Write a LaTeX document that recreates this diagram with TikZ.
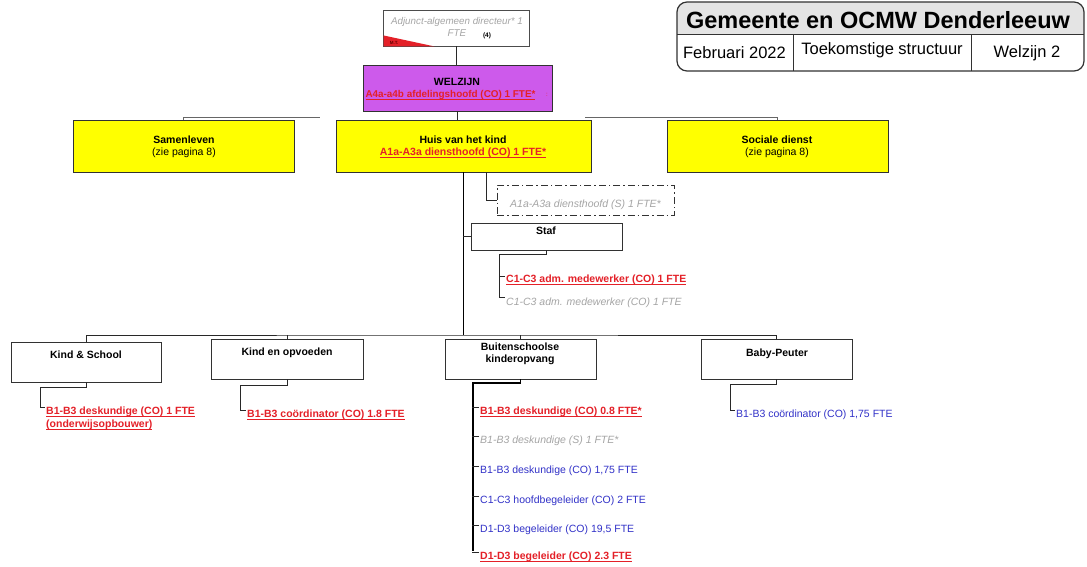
\documentclass[tikz,border=0pt]{standalone}
\usepackage{fontspec}
\setmainfont{Liberation Sans}
\definecolor{myred}{RGB}{228,32,40}
\definecolor{myblue}{RGB}{50,50,200}
\definecolor{greytxt}{RGB}{165,165,165}
\definecolor{purp}{RGB}{205,90,235}
\definecolor{yfill}{RGB}{255,255,0}
\definecolor{boxdark}{RGB}{50,50,50}
\definecolor{linedark}{RGB}{40,40,40}
\definecolor{titlefill}{RGB}{228,228,228}
\newcommand\fsz{\fontsize{10.5}{12.5}\selectfont}
\newcommand\redul[1]{{\color{myred}\bfseries\setbox0\hbox{#1}\rlap{\rule[-2pt]{\wd0}{0.8pt}}\box0}}
\begin{document}
\begin{tikzpicture}[x=1pt,y=-1pt, font=\fsz,
  box/.style={draw=boxdark, line width=0.9pt, rectangle, inner sep=0pt},
  ybox/.style={box, fill=yfill},
  txt/.style={inner sep=0pt, anchor=west},
  ctxt/.style={inner sep=0pt, align=center},
  conn/.style={draw=linedark, line width=0.9pt},
  thickconn/.style={draw=black, line width=1.6pt},
  greyit/.style={text=greytxt, font=\fsz\itshape},
  bluet/.style={text=myblue},
  ttl/.style={inner sep=0pt, font=\fontsize{16.5}{18}\selectfont}]
\fill[white] (0,0) rectangle (1087,567);
\useasboundingbox (0,0) rectangle (1087,567);

% title block
\begin{scope}
  \clip[rounded corners=10pt] (677,2) rectangle (1084,71);
  \fill[titlefill] (677,2) rectangle (1084,35);
\end{scope}
\draw[line width=1.2pt, draw=boxdark, rounded corners=10pt] (677,2) rectangle (1084,71);
\draw[line width=1pt, draw=boxdark] (677,35) -- (1084,35);
\draw[line width=1pt, draw=boxdark] (793,35) -- (793,71);
\draw[line width=1pt, draw=boxdark] (971,35) -- (971,71);
\node[inner sep=0pt, font=\fontsize{23.5}{26}\selectfont\bfseries] (title) at (878,20) {Gemeente en OCMW Denderleeuw};
\node[ttl] (feb) at (734.5,53) {Februari 2022};
\node[ttl] (toek) at (882,50) {Toekomstige structuur};
\node[ttl] (wz2) at (1027,53) {Welzijn 2};

% top box
\node[box, fill=white, draw=gray!60!black, minimum width=146pt, minimum height=36pt] (top) at (456,28) {};
\fill[myred] ([xshift=1pt]top.south west) -- ([xshift=1pt,yshift=11pt]top.south west) -- ([xshift=52pt]top.south west) -- cycle;
\node[inner sep=0pt, text=red!40!black, font=\fontsize{4.5}{5}\selectfont\bfseries] (mt) at (394,43) {M.T.};
\node[ctxt, text=greytxt, font=\fontsize{9.8}{12}\selectfont\itshape] (topt) at (457,27) {Adjunct-algemeen directeur* 1\\FTE};
\node[inner sep=0pt, font=\fontsize{6.5}{7}\selectfont\bfseries] (four) at (487,36) {(4)};

% welzijn
\node[box, fill=purp, minimum width=189pt, minimum height=46pt] (welz) at (457.5,88) {};
\node[ctxt, font=\fsz\bfseries] (welzt) at (457,82) {WELZIJN};
\node[ctxt, font=\fontsize{9.9}{12}\selectfont] (welzr) at (450.5,95) {\redul{A4a-a4b afdelingshoofd (CO) 1 FTE*}};
\node[inner sep=0pt, text=myred, font=\fontsize{6}{6}\selectfont] (welzm) at (547,95) {:};

% yellow boxes
\node[ybox, minimum width=221pt, minimum height=52pt] (sam) at (183.5,146) {};
\node[ctxt] (samt) at (184,147) {\textbf{Samenleven}\\(zie pagina 8)};
\node[ybox, minimum width=255pt, minimum height=52pt] (huis) at (463.5,146) {};
\node[ctxt] (huist) at (463,147) {\textbf{Huis van het kind}\\\redul{A1a-A3a diensthoofd (CO) 1 FTE*}};
\node[ybox, minimum width=221pt, minimum height=52pt] (soc) at (777.5,146) {};
\node[ctxt] (soct) at (777,147) {\textbf{Sociale dienst}\\(zie pagina 8)};

% dashed and staf
\node[box, dash pattern=on 7pt off 3pt on 1.5pt off 3pt, minimum width=177pt, minimum height=30pt] (dsh) at (585.5,200) {};
\node[txt, greyit] (dsht) at (510,205) {A1a-A3a diensthoofd (S) 1 FTE*};
\node[box, minimum width=151pt, minimum height=27pt] (staf) at (546.5,236.5) {};
\node[ctxt, font=\fsz\bfseries] (staft) at (546,231) {Staf};
\node[txt] (s1) at (506,280) {\redul{C1-C3 adm. medewerker (CO) 1 FTE}};
\node[txt, greyit] (s2) at (506,303) {C1-C3 adm. medewerker (CO) 1 FTE};

% bottom boxes
\node[box, minimum width=150pt, minimum height=40pt] (ks) at (86.5,362) {};
\node[ctxt, font=\fsz\bfseries] (kst) at (86,355) {Kind \& School};
\node[box, minimum width=152pt, minimum height=40pt] (ko) at (287,359) {};
\node[ctxt, font=\fsz\bfseries] (kot) at (287,353) {Kind en opvoeden};
\node[box, minimum width=151pt, minimum height=40pt] (bko) at (520.5,359) {};
\node[ctxt, font=\fsz\bfseries] (bkot) at (520,354) {Buitenschoolse\\kinderopvang};
\node[box, minimum width=151pt, minimum height=40pt] (bp) at (776.5,359) {};
\node[ctxt, font=\fsz\bfseries] (bpt) at (777,354) {Baby-Peuter};

% bottom texts
\node[txt] (ks1) at (46,412) {\redul{B1-B3 deskundige (CO) 1 FTE}};
\node[txt] (ks2) at (46,425) {\redul{(onderwijsopbouwer)}};
\node[txt] (ko1) at (247,415) {\redul{B1-B3 coördinator (CO) 1.8 FTE}};
\node[txt] (b1) at (480,412) {\redul{B1-B3 deskundige (CO) 0.8 FTE*}};
\node[txt, greyit] (b2) at (480,441) {B1-B3 deskundige (S) 1 FTE*};
\node[txt, bluet] (b3) at (480,471) {B1-B3 deskundige (CO) 1,75 FTE};
\node[txt, bluet] (b4) at (480,501) {C1-C3 hoofdbegeleider (CO) 2 FTE};
\node[txt, bluet] (b5) at (480,530) {D1-D3 begeleider (CO) 19,5 FTE};
\node[txt] (b6) at (480,557) {\redul{D1-D3 begeleider (CO) 2.3 FTE}};
\node[txt, bluet] (bp1) at (736,415) {B1-B3 coördinator (CO) 1,75 FTE};

% coordinates
\coordinate (samR) at (320,117);
\coordinate (socL) at (585,117);
\coordinate (dV) at (486,172);
\coordinate (hub2) at (463,335);
\coordinate (stafV) at (499,254);
\coordinate (ksV) at (40,387);
\coordinate (koV) at (240,385);
\coordinate (bkoV) at (473,383);
\coordinate (bpV) at (730,384);
\coordinate (bkoEnd) at (473,551);

% connectors
\draw[conn] (top.south) -- (top.south |- welz.north);
\draw[conn] (welz.south) -- (welz.south |- huis.north);
\draw[conn, draw=gray!80!black] (sam.north) |- (samR);
\draw[conn, draw=gray!80!black] (soc.north) |- (socL);
\draw[thickconn] (huis.south) -- (huis.south |- hub2);
\draw[conn] (dV) |- (dsh.west);
\draw[conn] (staf.west -| hub2) -- (staf.west);
\draw[conn] (staf.south) |- (stafV) |- ([xshift=-1pt,yshift=6pt]s2.west);
\draw[conn] (stafV) |- ([xshift=-1pt,yshift=4pt]s1.west);
\draw[conn] (ks.north) |- (hub2) -| (bp.north);
\draw[conn] (ko.north) -- (ko.north |- hub2);
\draw[conn] (bko.north) -- (bko.north |- hub2);
\draw[conn] (ks.south) |- (ksV) |- ([xshift=-1pt,yshift=5pt]ks1.west);
\draw[conn] (ko.south) |- (koV) |- ([xshift=-1pt,yshift=5pt]ko1.west);
\draw[conn] (bp.south) |- (bpV) |- ([xshift=-1pt,yshift=5pt]bp1.west);
\draw[thickconn] (bko.south) |- (bkoV) -- (bkoEnd);
\foreach \t in {b1,b2,b3,b4,b5,b6}{
  \draw[conn] ([xshift=-1pt,yshift=5pt]\t.west) -- ++(-7,0);
}
\end{tikzpicture}
\end{document}
